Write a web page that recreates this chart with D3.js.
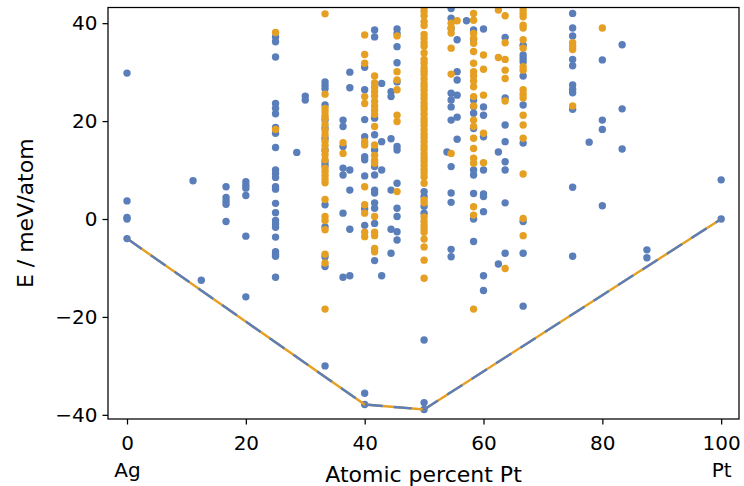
<!DOCTYPE html>
<html>
<head>
<meta charset="utf-8">
<script src="https://cdn.jsdelivr.net/npm/d3@7"></script>
<style>
  html, body { margin: 0; padding: 0; background: #fff; }
  svg { display: block; font-family: "DejaVu Sans", sans-serif; }
</style>
</head>
<body>
<svg id="chart" width="744" height="486"></svg>
<script>
// ---- data ----
const comps = [0, 11.11, 12.5, 16.67, 20, 25, 28.57, 30, 33.33, 36.36, 37.5, 40, 41.67, 42.86, 44.44, 45.45, 50, 53.85, 54.55, 55.56, 57.14, 58.33, 60, 62.5, 63.64, 66.67, 75, 77.78, 80, 83.33, 87.5, 100];

const blueE = [
  [29.8, 3.7, 0.3, 0.0, -4.0],
  [7.8],
  [-12.5],
  [6.6, 4.4, 3.7, 3.0, -0.5],
  [7.6, 6.9, 6.3, 4.8, -3.5, -15.9],
  [37.2, 36.2, 33.1, 23.6, 22.6, 21.5, 18.7, 17.5, 14.6, 10.0, 9.3, 8.5, 6.6, 6.1, 3.2, 1.3, -0.3, -1.0, -1.7, -3.7, -6.7, -7.2, -7.6, -11.9],
  [13.6],
  [25.1, 24.3],
  [28.0, 27.3, 26.6, 23.3, 20.2, 18.6, 16.5, 14.1, 11.7, 11.0, 2.9, -1.6, -7.7, -9.7, -30.0],
  [20.2, 18.9, 14.8, 10.4, 9.0, 1.2, -11.9],
  [30.0, 26.8, 10.0, 5.9, -2.1, -11.6],
  [31.0, 26.4, 20.3, 16.8, 12.7, 12.1, 8.8, 2.1, -1.3, -35.6, -37.9],
  [38.6, 37.2, 20.6, 17.2, 14.1, 10.7, 9.0, 5.9, 5.3, 3.3, 2.2, -0.9, -8.5],
  [27.7, 15.8, 10.0, -11.6],
  [26.0, 25.0, 16.4, 5.9, -2.1, -7.0],
  [38.8, 37.9, 35.2, 31.9, 28.0, 14.8, 14.1, 7.3, 2.2, 0.5, -2.6, -4.3],
  [5.6, 4.6, 2.6, 1.2, -24.7, -37.5, -38.9],
  [13.7],
  [43.0, 41.0, 38.9, 25.7, 24.3, 22.9, 20.2, 10.7, 5.3, 3.4, -6.2, -7.7],
  [36.6, 30.1, 28.4, 25.3, 20.8, 16.3],
  [40.5],
  [38.6, 36.6, 24.3, 23.0, 21.6, 18.5, 10.0, 9.0, 5.2, 0.0, -4.6],
  [38.8, 22.9, 21.2, 16.8, 10.0, 5.1, 4.6, 1.5, -11.6, -14.6],
  [13.7, -9.2],
  [37.1, 24.7, 19.2, 15.8, 11.7, 10.0, 3.3, -7.0],
  [35.5, 33.5, 32.8, 32.1, 29.2, 23.3, 15.5, -0.5, -7.0, -17.8],
  [42.0, 39.0, 37.4, 32.6, 31.3, 27.4, 26.5, 25.8, 22.4, 6.5, -7.6],
  [15.7],
  [32.5, 20.2, 18.3, 2.7],
  [35.6, 22.5, 14.3],
  [-6.3, -7.9],
  [8.0, 0.0]
];

const orangeE = [
  [], [], [], [], [],
  [38.1, 18.3],
  [], [],
  [41.9, 25.5, 22.6, 21.9, 21.1, 20.6, 19.3, 18.1, 17.2, 15.9, 15.0, 13.9, 13.1, 12.1, 10.4, 9.7, 8.9, 8.1, 7.4, 4.0, 0.5, -0.3, -2.2, -7.2, -9.0, -18.4],
  [15.6, 13.4],
  [],
  [37.6, 33.6, 31.8, 25.0, 23.6, 15.8, 15.1, 6.6, 2.9, 1.2, -2.7, -3.6],
  [29.2, 27.8, 26.9, 26.0, 25.1, 24.0, 23.1, 22.2, 21.4, 18.9, 15.1, 13.0, 12.0, 11.4, 0.5, -2.7, -3.4, -6.0, -6.7],
  [], [],
  [37.4, 30.1, 28.4, 26.4, 21.2, 19.9, 5.6],
  [43.2, 42.4, 41.5, 40.3, 39.5, 37.7, 36.9, 36.0, 35.3, 33.9, 32.6, 31.8, 30.9, 30.2, 29.5, 28.6, 27.7, 27.0, 26.3, 25.4, 24.6, 23.7, 23.0, 22.3, 21.4, 20.5, 19.8, 19.1, 18.2, 17.3, 16.6, 15.8, 14.9, 14.2, 13.3, 12.5, 11.8, 11.0, 10.1, 9.4, 8.6, 7.3, 3.9, 3.3, 0.4, -0.5, -1.3, -2.0, -2.7, -4.1, -5.7, -8.4, -12.1],
  [],
  [40.0, 39.0, 38.0, 34.9, 29.6, 13.4],
  [40.5],
  [],
  [42.0, 40.6, 37.9, 36.9, 35.9, 34.2, 31.8, 30.1, 29.2, 28.2, 27.0, 25.0, 23.1, 20.2, 18.9, 16.5, 14.4, 12.4, 11.4, 2.5, 0.8, -18.4],
  [33.5, 30.6, 25.3, 17.5, 11.5],
  [42.7, 33.0],
  [41.5, 36.0, 32.6, 30.4, 28.7, 24.1, -10.1],
  [42.7, 42.0, 41.3, 39.6, 39.0, 36.6, 34.9, 31.1, 30.4, 26.4, 25.5, 24.7, 21.2, 19.2, 16.5, 9.2, 0.1, -3.4],
  [36.0, 35.3, 34.6, 23.1],
  [],
  [39.0],
  [], [], []
];

const hullX = [0, 40, 50, 100];
const hullE = [-4.0, -37.9, -38.9, 0.0];

const xTicks = [0, 20, 40, 60, 80, 100];
const xTickSub = {0: "Ag", 100: "Pt"};
const yTicks = [-40, -20, 0, 20, 40];
const xLabel = "Atomic percent Pt";
const yLabel = "E / meV/atom";

// ---- layout ----
const L = 108, R = 739, T = 7.5, B = 419;
const blue = "#5a7eba", orange = "#e5a024";

const svg = d3.select("#chart");
const x = d3.scaleLinear().domain([-3.2, 103.0]).range([L, R]);
const y = d3.scaleLinear().domain([-40.85, 43.2]).range([B, T]);

svg.append("defs").append("clipPath").attr("id", "clip")
  .append("rect").attr("x", L).attr("y", T).attr("width", R - L).attr("height", B - T);

const pts = (arr) => comps.flatMap((c, i) => arr[i].map(e => ({c, e})));

const plot = svg.append("g").attr("clip-path", "url(#clip)");
plot.selectAll("circle.b").data(pts(blueE)).join("circle")
  .attr("class", "b").attr("cx", d => x(d.c)).attr("cy", d => y(d.e))
  .attr("r", 3.7).attr("fill", blue);
plot.selectAll("circle.o").data(pts(orangeE)).join("circle")
  .attr("class", "o").attr("cx", d => x(d.c)).attr("cy", d => y(d.e))
  .attr("r", 3.7).attr("fill", orange);

const hull = hullX.map((c, i) => [c, hullE[i]]);
const line = d3.line().x(d => x(d[0])).y(d => y(d[1]));
plot.append("path").attr("d", line(hull)).attr("fill", "none")
  .attr("stroke", orange).attr("stroke-width", 2.4);
plot.append("path").attr("d", line(hull)).attr("fill", "none")
  .attr("stroke", blue).attr("stroke-width", 2.4).attr("stroke-dasharray", "18,11");

// ---- axes ----
const xAxis = svg.append("g").attr("transform", `translate(0,${B})`)
  .call(d3.axisBottom(x).tickValues(xTicks).tickSize(5.5).tickFormat(d3.format("d")));
xAxis.select(".domain").remove();
xAxis.selectAll(".tick line").attr("stroke", "#000").attr("stroke-width", 1.25);
xAxis.selectAll(".tick text").attr("y", 31).attr("dy", null)
  .attr("font-size", 20).attr("fill", "#000").attr("font-family", "DejaVu Sans")
  .each(function(d) {
    if (xTickSub[d]) {
      d3.select(this).append("tspan").attr("x", 0).attr("dy", 26.5).text(xTickSub[d]);
    }
  });

const yAxis = svg.append("g").attr("transform", `translate(${L},0)`)
  .call(d3.axisLeft(y).tickValues(yTicks).tickSize(5.5).tickPadding(5)
    .tickFormat(d => d < 0 ? "\u2212" + Math.abs(d) : String(d)));
yAxis.select(".domain").remove();
yAxis.selectAll(".tick line").attr("stroke", "#000").attr("stroke-width", 1.25);
yAxis.selectAll(".tick text").attr("font-size", 20).attr("fill", "#000")
  .attr("font-family", "DejaVu Sans");

svg.append("rect").attr("x", L).attr("y", T).attr("width", R - L).attr("height", B - T)
  .attr("fill", "none").attr("stroke", "#000").attr("stroke-width", 1.25);

svg.append("text").attr("x", (L + R) / 2).attr("y", 481.5)
  .attr("text-anchor", "middle").attr("font-size", 22).text(xLabel);
svg.append("text").attr("transform", `translate(33,${(T + B) / 2}) rotate(-90)`)
  .attr("text-anchor", "middle").attr("font-size", 22).text(yLabel);
</script>
</body>
</html>
